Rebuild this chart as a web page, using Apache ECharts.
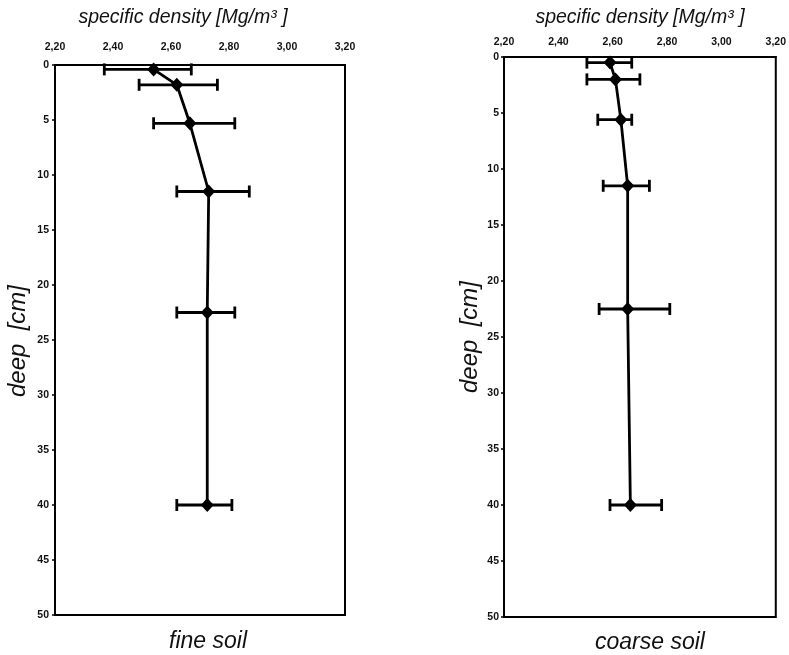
<!DOCTYPE html>
<html>
<head>
<meta charset="utf-8">
<script src="https://cdn.jsdelivr.net/npm/echarts@6/dist/echarts.min.js"></script>
<style>
html,body{margin:0;padding:0;background:#fff;}
#chart{width:789px;height:655px;}
</style>
</head>
<body>
<div id="chart"></div>
<script>
// fine soil
const fineDepth = [0.4, 1.8, 5.3, 11.5, 22.5, 40];
const fineMean  = [2.54, 2.62, 2.665, 2.73, 2.725, 2.725];
const fineLow   = [2.37, 2.49, 2.54, 2.62, 2.62, 2.62];
const fineHigh  = [2.67, 2.76, 2.82, 2.87, 2.82, 2.81];
// coarse soil
const coarseDepth = [0.5, 2.0, 5.6, 11.5, 22.5, 40];
const coarseMean  = [2.59, 2.61, 2.63, 2.655, 2.655, 2.665];
const coarseLow   = [2.505, 2.505, 2.545, 2.565, 2.55, 2.59];
const coarseHigh  = [2.67, 2.70, 2.67, 2.735, 2.81, 2.78];

const panelTitles = ['fine soil', 'coarse soil'];
const xAxisTitle = 'specific density [Mg/m\u00B3 ]';
const yAxisTitle = 'deep  [cm]';

const FONT = 'Liberation Sans, Arial, Helvetica, sans-serif';
const chart = echarts.init(document.getElementById('chart'), null, {renderer: 'canvas'});

function errRender(params, api) {
  const lo = api.coord([api.value(0), api.value(2)]);
  const hi = api.coord([api.value(1), api.value(2)]);
  const h = 6;
  const st = {stroke: '#000', lineWidth: 2.8};
  return {
    type: 'group',
    children: [
      {type: 'line', shape: {x1: lo[0], y1: lo[1], x2: hi[0], y2: hi[1]}, style: st},
      {type: 'line', shape: {x1: lo[0], y1: lo[1] - h, x2: lo[0], y2: lo[1] + h}, style: st},
      {type: 'line', shape: {x1: hi[0], y1: hi[1] - h, x2: hi[0], y2: hi[1] + h}, style: st}
    ]
  };
}

function xAxisCfg(idx, margin) {
  return {
    type: 'value', gridIndex: idx, position: 'top',
    min: 2.2, max: 3.2, interval: 0.2,
    axisLine: {show: true, lineStyle: {color: '#000', width: 2}},
    axisTick: {show: false},
    splitLine: {show: false},
    axisLabel: {
      margin: margin, color: '#111', fontSize: 10.5, fontWeight: 'bold', fontFamily: FONT,
      formatter: v => v.toFixed(2).replace('.', ',')
    }
  };
}
function yAxisCfg(idx, margin) {
  return {
    type: 'value', gridIndex: idx, inverse: true,
    min: 0, max: 50, interval: 5,
    axisLine: {show: true, lineStyle: {color: '#000', width: 2}},
    axisTick: {show: true, length: 3, lineStyle: {color: '#000', width: 1.5}},
    splitLine: {show: false},
    axisLabel: {margin: margin, color: '#111', fontSize: 10.5, fontWeight: 'bold', fontFamily: FONT}
  };
}

function pairs(xs, ys) { return xs.map((x, i) => [x, ys[i]]); }
function triples(lo, hi, d) { return lo.map((l, i) => [l, hi[i], d[i]]); }

const option = {
  backgroundColor: '#fff',
  animation: false,
  grid: [
    {left: 55, top: 65, width: 290, height: 550, show: true, borderColor: '#000', borderWidth: 2, backgroundColor: '#fff'},
    {left: 504, top: 57, width: 273, height: 560, show: true, borderColor: '#000', borderWidth: 2, backgroundColor: '#fff'}
  ],
  xAxis: [xAxisCfg(0, 12), xAxisCfg(1, 9)],
  yAxis: [yAxisCfg(0, 6), yAxisCfg(1, 5)],
  series: [
    {type: 'custom', xAxisIndex: 0, yAxisIndex: 0, renderItem: errRender,
     encode: {x: [0, 1], y: 2}, data: triples(fineLow, fineHigh, fineDepth), z: 2},
    {type: 'line', xAxisIndex: 0, yAxisIndex: 0, data: pairs(fineMean, fineDepth),
     symbol: 'diamond', symbolSize: [13, 14], lineStyle: {color: '#000', width: 2.8},
     itemStyle: {color: '#000'}, z: 3},
    {type: 'custom', xAxisIndex: 1, yAxisIndex: 1, renderItem: errRender,
     encode: {x: [0, 1], y: 2}, data: triples(coarseLow, coarseHigh, coarseDepth), z: 2},
    {type: 'line', xAxisIndex: 1, yAxisIndex: 1, data: pairs(coarseMean, coarseDepth),
     symbol: 'diamond', symbolSize: [13, 14], lineStyle: {color: '#000', width: 2.8},
     itemStyle: {color: '#000'}, z: 3}
  ],
  graphic: [
    {type: 'text', x: 183, y: 18, style: {text: xAxisTitle, font: 'italic 19.5px ' + FONT, fill: '#111', align: 'center', verticalAlign: 'middle'}},
    {type: 'text', x: 640, y: 18, style: {text: xAxisTitle, font: 'italic 19.5px ' + FONT, fill: '#111', align: 'center', verticalAlign: 'middle'}},
    {type: 'text', x: 18, y: 341, rotation: Math.PI / 2, style: {text: yAxisTitle, font: 'italic 24px ' + FONT, fill: '#111', align: 'center', verticalAlign: 'middle'}},
    {type: 'text', x: 470, y: 337, rotation: Math.PI / 2, style: {text: yAxisTitle, font: 'italic 24px ' + FONT, fill: '#111', align: 'center', verticalAlign: 'middle'}},
    {type: 'text', x: 208, y: 642, style: {text: panelTitles[0], font: 'italic 23px ' + FONT, fill: '#111', align: 'center', verticalAlign: 'middle'}},
    {type: 'text', x: 650, y: 643, style: {text: panelTitles[1], font: 'italic 23px ' + FONT, fill: '#111', align: 'center', verticalAlign: 'middle'}}
  ]
};
chart.setOption(option);
</script>
</body>
</html>
